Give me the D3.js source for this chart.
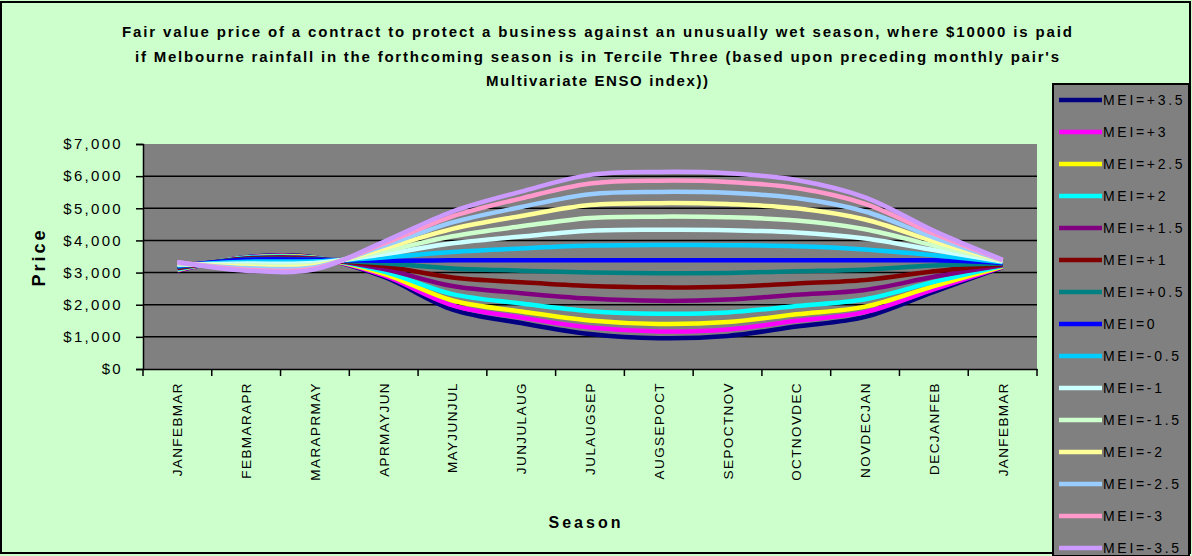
<!DOCTYPE html>
<html>
<head>
<meta charset="utf-8">
<script src="https://cdn.jsdelivr.net/npm/d3@7"></script>
<style>
  html, body { margin: 0; padding: 0; background: #CCFFCC; }
  svg { display: block; }
  text { font-family: Arial, "Liberation Sans", sans-serif; }
</style>
</head>
<body>
<div id="chart"></div>
<script>
// Seasons (three-month windows)
const seasons = ["JANFEBMAR", "FEBMARAPR", "MARAPRMAY", "APRMAYJUN", "MAYJUNJUL", "JUNJULAUG",
  "JULAUGSEP", "AUGSEPOCT", "SEPOCTNOV", "OCTNOVDEC", "NOVDECJAN", "DECJANFEB", "JANFEBMAR"];

// Series names (MEI scenarios)
const seriesNames = ["MEI=+3.5", "MEI=+3", "MEI=+2.5", "MEI=+2", "MEI=+1.5", "MEI=+1", "MEI=+0.5",
  "MEI=0", "MEI=-0.5", "MEI=-1", "MEI=-1.5", "MEI=-2", "MEI=-2.5", "MEI=-3", "MEI=-3.5"];

// Fair value price ($) per season for each MEI scenario
const meiP35 = [3060, 3480, 3470, 2870, 1850, 1430, 1090, 960, 1030, 1320, 1620, 2400, 3170];
const meiP30 = [3070, 3470, 3460, 2910, 1980, 1600, 1290, 1170, 1230, 1500, 1770, 2480, 3180];
const meiP25 = [3090, 3460, 3460, 2960, 2130, 1790, 1510, 1400, 1460, 1700, 1940, 2580, 3190];
const meiP20 = [3100, 3460, 3450, 3030, 2330, 2040, 1800, 1720, 1760, 1960, 2170, 2710, 3210];
const meiP15 = [3130, 3440, 3440, 3110, 2580, 2360, 2190, 2120, 2160, 2310, 2460, 2870, 3230];
const meiP10 = [3150, 3430, 3420, 3200, 2850, 2700, 2580, 2540, 2560, 2660, 2770, 3040, 3260];
const meiP05 = [3180, 3410, 3410, 3290, 3130, 3060, 3000, 2980, 2990, 3040, 3090, 3220, 3280];
const mei00  = [3200, 3400, 3400, 3370, 3380, 3380, 3380, 3380, 3380, 3380, 3380, 3380, 3300];
const meiM05 = [3220, 3340, 3350, 3470, 3640, 3750, 3840, 3860, 3850, 3820, 3720, 3540, 3320];
const meiM10 = [3250, 3280, 3300, 3570, 3910, 4120, 4300, 4330, 4320, 4250, 4060, 3700, 3340];
const meiM15 = [3260, 3230, 3250, 3660, 4130, 4440, 4700, 4740, 4720, 4620, 4350, 3840, 3350];
const meiM20 = [3280, 3180, 3210, 3750, 4360, 4760, 5100, 5160, 5130, 5000, 4650, 3970, 3370];
const meiM25 = [3300, 3140, 3170, 3830, 4560, 5040, 5440, 5510, 5480, 5320, 4900, 4090, 3380];
const meiM30 = [3320, 3090, 3130, 3900, 4750, 5310, 5770, 5860, 5820, 5630, 5140, 4210, 3390];
const meiM35 = [3330, 3060, 3100, 3960, 4900, 5520, 6040, 6130, 6090, 5880, 5340, 4300, 3400];

const seriesValues = [meiP35, meiP30, meiP25, meiP20, meiP15, meiP10, meiP05, mei00,
  meiM05, meiM10, meiM15, meiM20, meiM25, meiM30, meiM35];

const seriesColors = ["#000080", "#FF00FF", "#FFFF00", "#00FFFF", "#800080", "#800000", "#008080",
  "#0000FF", "#00CCFF", "#CCFFFF", "#CCFFCC", "#FFFF99", "#99CCFF", "#FF99CC", "#CC99FF"];

const yTicks = [0, 1000, 2000, 3000, 4000, 5000, 6000, 7000];

const titleLines = [
  "Fair value price of a contract to protect a business against an unusually wet season, where $10000 is paid",
  "if Melbourne rainfall in the forthcoming season is in Tercile Three (based upon preceding monthly pair's",
  "Multivariate ENSO index))"
];

const W = 1192, H = 556;
const plot = { left: 143, right: 1037, top: 144, bottom: 369 };

const svg = d3.select("#chart").append("svg")
  .attr("width", W).attr("height", H);

// chart background and frame
svg.append("rect").attr("x", 1).attr("y", 2).attr("width", W - 3).attr("height", H - 5)
  .attr("fill", "#CCFFCC").attr("stroke", "#000").attr("stroke-width", 2);

// title
const titleW = [950, 924, 222];
titleLines.forEach((t, i) => {
  svg.append("text")
    .attr("x", 597).attr("y", 37 + i * 24.5)
    .attr("text-anchor", "middle")
    .attr("font-size", 15).attr("font-weight", "bold")
    .attr("textLength", titleW[i]).attr("lengthAdjust", "spacing")
    .text(t);
});

const x = d3.scaleBand().domain(d3.range(seasons.length))
  .range([plot.left, plot.right]).paddingInner(0).paddingOuter(0);
const y = d3.scaleLinear().domain([0, 7000]).range([plot.bottom, plot.top]);

// plot area
svg.append("rect")
  .attr("x", plot.left).attr("y", plot.top)
  .attr("width", plot.right - plot.left).attr("height", plot.bottom - plot.top)
  .attr("fill", "#808080");

// gridlines
svg.append("g").selectAll("line").data(yTicks.filter(d => d > 0 && d < 7000)).join("line")
  .attr("x1", plot.left).attr("x2", plot.right)
  .attr("y1", d => y(d)).attr("y2", d => y(d))
  .attr("stroke", "#000").attr("stroke-width", 1.5);

// series lines
const line = d3.line()
  .x((d, i) => x(i) + x.bandwidth() / 2)
  .y(d => y(d))
  .curve(d3.curveCatmullRom.alpha(0.5));

svg.append("clipPath").attr("id", "plotClip").append("rect")
  .attr("x", plot.left).attr("y", plot.top)
  .attr("width", plot.right - plot.left).attr("height", plot.bottom - plot.top);

svg.append("g").attr("clip-path", "url(#plotClip)")
  .selectAll("path").data(seriesValues).join("path")
  .attr("d", d => line(d))
  .attr("fill", "none")
  .attr("stroke", (d, i) => seriesColors[i])
  .attr("stroke-width", 4.5)
  .attr("stroke-linejoin", "round");

// y axis
const yAxis = svg.append("g")
  .attr("transform", `translate(${plot.left},0)`)
  .call(d3.axisLeft(y).tickValues(yTicks).tickSize(7).tickPadding(13)
    .tickFormat(d => "$" + d3.format(",")(d)));
yAxis.select(".domain").attr("stroke", "#000").attr("stroke-width", 1.5);
yAxis.selectAll(".tick line").attr("stroke", "#000").attr("stroke-width", 1.5);
yAxis.selectAll(".tick text")
  .attr("font-size", 15).attr("fill", "#000")
  .attr("font-family", "Arial, 'Liberation Sans', sans-serif")
  .attr("letter-spacing", "2.3px");

// x axis
const xAxis = svg.append("g")
  .attr("transform", `translate(0,${plot.bottom})`)
  .call(d3.axisBottom(x).tickSize(0).tickFormat(i => seasons[i]));
xAxis.select(".domain").attr("stroke", "#000").attr("stroke-width", 1.5);
// tick marks at category boundaries
xAxis.append("g").selectAll("line").data(d3.range(seasons.length + 1)).join("line")
  .attr("x1", i => i < seasons.length ? x(i) : plot.right)
  .attr("x2", i => i < seasons.length ? x(i) : plot.right)
  .attr("y1", 0).attr("y2", 7)
  .attr("stroke", "#000").attr("stroke-width", 1.5);
xAxis.selectAll(".tick text")
  .attr("font-size", 13.5).attr("fill", "#000")
  .attr("font-family", "Arial, 'Liberation Sans', sans-serif")
  .attr("letter-spacing", "1.4px")
  .attr("text-anchor", "end")
  .attr("dy", null)
  .attr("transform", "translate(5,13) rotate(-90)")
  .attr("x", 0).attr("y", 0);

// axis titles
svg.append("text")
  .attr("x", 586).attr("y", 528)
  .attr("text-anchor", "middle")
  .attr("font-size", 16).attr("font-weight", "bold")
  .attr("letter-spacing", "3px")
  .text("Season");

svg.append("text")
  .attr("transform", "translate(45,257) rotate(-90)")
  .attr("text-anchor", "middle")
  .attr("font-size", 18).attr("font-weight", "bold")
  .attr("letter-spacing", "3px")
  .text("Price");

// legend
const legend = svg.append("g");
legend.append("rect")
  .attr("x", 1053).attr("y", 84).attr("width", 136).attr("height", 472)
  .attr("fill", "#808080").attr("stroke", "#000").attr("stroke-width", 2);

const items = legend.selectAll("g.item").data(seriesNames).join("g")
  .attr("class", "item")
  .attr("transform", (d, i) => `translate(1059,${100 + i * 32})`);
items.append("line")
  .attr("x1", 0).attr("x2", 43).attr("y1", 0).attr("y2", 0)
  .attr("stroke", (d, i) => seriesColors[i]).attr("stroke-width", 4.5);
items.append("text")
  .attr("x", 44).attr("y", 5)
  .attr("font-size", 14).attr("fill", "#000")
  .attr("letter-spacing", "2.7px")
  .text(d => d);
</script>
</body>
</html>
